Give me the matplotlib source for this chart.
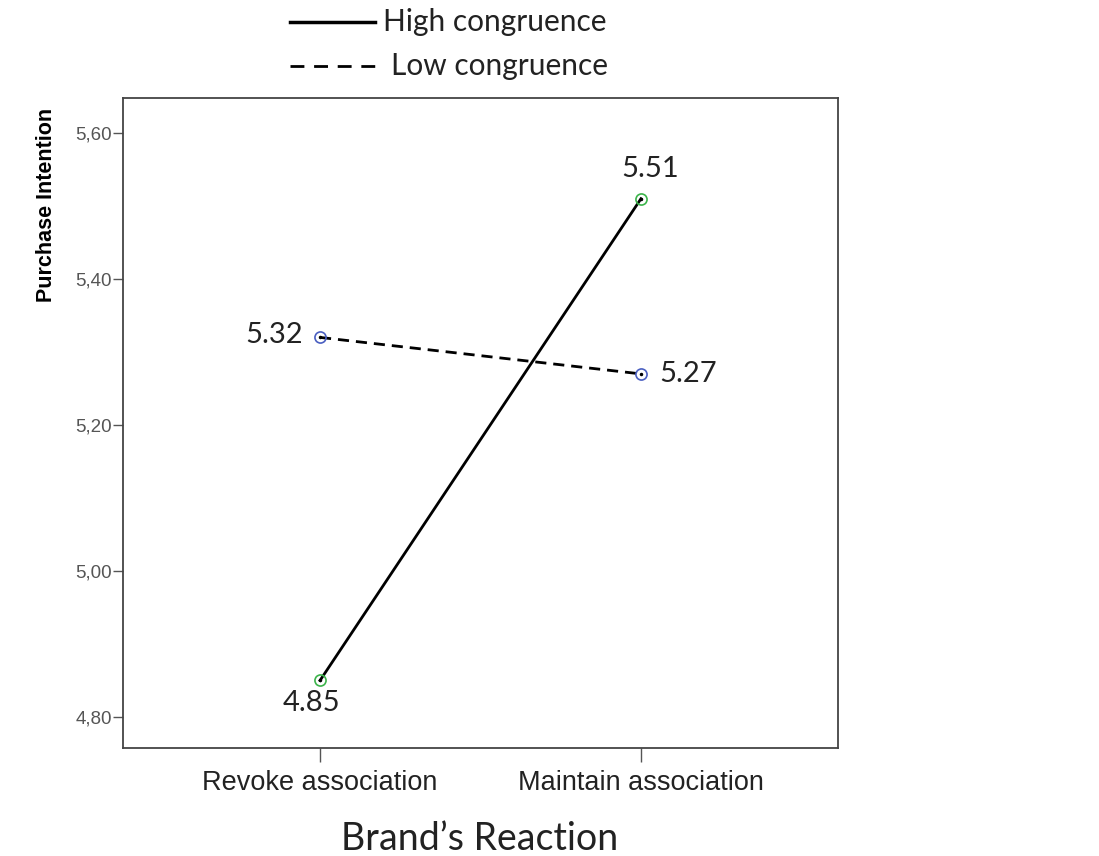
import matplotlib
matplotlib.use("Agg")
import matplotlib.pyplot as plt
from matplotlib.lines import Line2D

# data
categories = ['Revoke association', 'Maintain association']
high_cong = [4.85, 5.51]
low_cong = [5.32, 5.27]
yticks = [4.80, 5.00, 5.20, 5.40, 5.60]

W, H = 1099, 856
fig = plt.figure(figsize=(W / 100, H / 100), dpi=100)
ax = fig.add_axes([0.1119, 0.1262, 0.6506, 0.7593])

x = list(range(len(categories)))
ax.plot(x, high_cong, '-', color='black', lw=2)
ax.plot(x, low_cong, '--', color='black', lw=2, dashes=(4, 2.5))
ax.plot(x, high_cong, 'o', ms=8, mfc='none', mec='#3cb44b', mew=1.2)
ax.plot(x, low_cong, 'o', ms=8, mfc='none', mec='#4a5fc1', mew=1.2)
ax.plot(x, high_cong, '.', ms=3, color='black')
ax.plot(x, low_cong, '.', ms=3, color='black')

lab_font = 'Lato'
lab_size = 21
lab_col = '#222222'
ax.annotate(f'{high_cong[0]:.2f}', (x[0], high_cong[0]), xytext=(-6, -7),
            textcoords='offset points', ha='center', va='top', fontsize=lab_size, family=lab_font, color=lab_col)
ax.annotate(f'{high_cong[1]:.2f}', (x[1], high_cong[1]), xytext=(7, 12),
            textcoords='offset points', ha='center', va='bottom', fontsize=lab_size, family=lab_font, color=lab_col)
ax.annotate(f'{low_cong[0]:.2f}', (x[0], low_cong[0]), xytext=(-12, 2),
            textcoords='offset points', ha='right', va='center', fontsize=lab_size, family=lab_font, color=lab_col)
ax.annotate(f'{low_cong[1]:.2f}', (x[1], low_cong[1]), xytext=(13, 0),
            textcoords='offset points', ha='left', va='center', fontsize=lab_size, family=lab_font, color=lab_col)

ax.set_xlim(-0.614, 1.614)
ax.set_ylim(4.7575, 5.648)
ax.set_xticks(x)
ax.set_xticklabels(categories, fontsize=19.5, family='Liberation Sans', color='#222222')
ax.set_yticks(yticks)
ax.set_yticklabels([f'{v:.2f}'.replace('.', ',') for v in yticks],
                   fontsize=13.5, family='Liberation Sans', color='#555555')
ax.tick_params(axis='x', length=10, width=1, color='#555555', pad=6)
ax.tick_params(axis='y', length=7, width=1, color='#555555', pad=1)
for s in ax.spines.values():
    s.set_color('#444444')
    s.set_linewidth(1.3)

ax.set_ylabel('Purchase Intention', fontsize=15.5, fontweight='bold', family='Liberation Sans')
ax.yaxis.set_label_coords(-0.092, 0.835)

fig.text(480 / W, 6 / H, 'Brand\u2019s Reaction', ha='center', va='baseline',
         fontsize=27, family=lab_font, color=lab_col)

# legend drawn above the axes
leg_rows = [('High congruence', '-', 22, 383), ('Low congruence', '--', 66, 391)]
for name, ls, yy, tx in leg_rows:
    ln = Line2D([290 / W, 375 / W], [1 - yy / H] * 2, color='black',
                lw=2.5 if ls == '-' else 2, transform=fig.transFigure)
    if ls == '--':
        ln.set_dashes((5, 3.5))
    fig.add_artist(ln)
    fig.text(tx / W, 1 - yy / H, name, ha='left', va='center',
             fontsize=21.5, family=lab_font, color=lab_col)

fig.savefig('out.png', dpi=100)
